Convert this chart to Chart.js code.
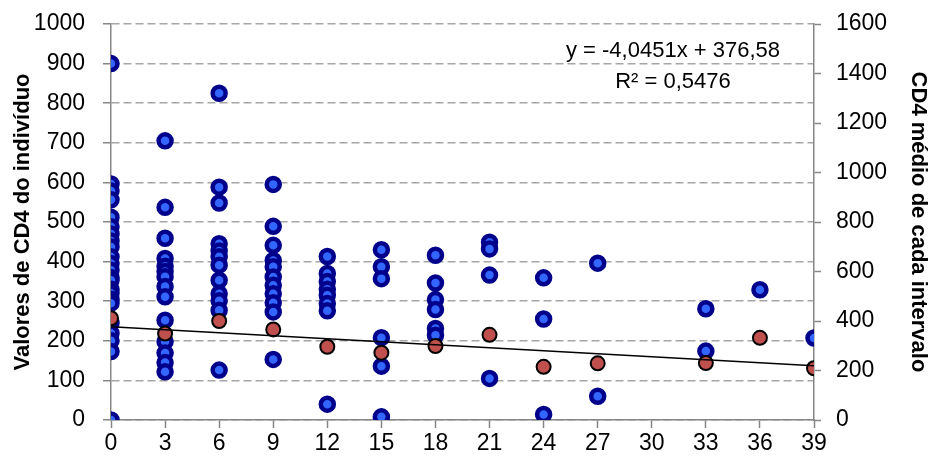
<!DOCTYPE html>
<html>
<head>
<meta charset="utf-8">
<script src="https://cdn.jsdelivr.net/npm/chart.js@4/dist/chart.umd.min.js"></script>
<style>
  html, body { margin: 0; padding: 0; background: #fff; }
  canvas { display: block; }
</style>
</head>
<body>
<canvas id="c" width="931" height="465"></canvas>
<script>
// valores individuais de CD4 (eixo esquerdo), agrupados por intervalo
var indivX = [
  0, 0, 0, 0, 0, 0, 0, 0, 0, 0, 0, 0, 0, 0, 0, 0, 0, 0, 0, 0, 0, 0, 0,
  3, 3, 3, 3, 3, 3, 3, 3, 3, 3, 3, 3, 3, 3,
  6, 6, 6, 6, 6, 6, 6, 6, 6, 6, 6, 6,
  9, 9, 9, 9, 9, 9, 9, 9, 9, 9, 9,
  12, 12, 12, 12, 12, 12, 12, 12,
  15, 15, 15, 15, 15, 15,
  18, 18, 18, 18, 18, 18,
  21, 21, 21, 21,
  24, 24, 24,
  27, 27,
  33, 33,
  36,
  39
];
var indivCD4 = [
  900, 596, 578, 556, 512, 488, 470, 452, 437, 412, 395, 378, 360, 353, 330, 320, 305, 295, 245, 219, 200, 173, 0,
  705, 537, 459, 408, 388, 375, 362, 337, 311, 252, 198, 169, 145, 122,
  825, 588, 548, 445, 427, 412, 391, 353, 319, 301, 277, 126,
  595, 489, 441, 403, 387, 361, 340, 319, 296, 273, 153,
  413, 370, 350, 330, 315, 294, 276, 40,
  430, 387, 357, 208, 136, 8,
  416, 346, 304, 279, 231, 214,
  449, 432, 366, 105,
  359, 255, 14,
  396, 60,
  281, 174,
  329,
  207
];

// CD4 médio de cada intervalo (eixo direito)
var mediaX = [0, 3, 6, 9, 12, 15, 18, 21, 24, 27, 33, 36, 39];
var mediaCD4 = [411, 349, 400, 366, 296, 272, 299, 344, 215, 229, 230, 332, 209];

// linha de tendência (da equação mostrada no gráfico)
var trendSlope = -4.0451;
var trendIntercept = 376.58;
var trendRange = [0, 39];
var trendLabel = ['y = -4,0451x + 376,58', 'R² = 0,5476'];

var FONT = "'Liberation Sans', Arial, sans-serif";
var AXIS = '#868686';
var GRID = '#a6a6a6';

function pts(xs, ys) {
  return xs.map(function (x, i) { return { x: x, y: ys[i] }; });
}

function plain(v) {
  return String(v);
}

// larguras fixas dos eixos, sem a folga automática dos rótulos
function fixWidth(w) {
  return function (s) {
    s.width = w;
    s.paddingTop = 0;
    s.paddingBottom = 0;
  };
}

var equationPlugin = {
  id: 'equation',
  afterDatasetsDraw: function (chart) {
    var ctx = chart.ctx;
    var a = chart.chartArea;
    ctx.save();
    ctx.fillStyle = '#000';
    ctx.font = '22px ' + FONT;
    ctx.textAlign = 'center';
    ctx.textBaseline = 'middle';
    var cx = a.right - 141;
    ctx.fillText(trendLabel[0], cx, a.top + 27);
    ctx.fillText(trendLabel[1], cx, a.top + 58);
    ctx.restore();
  }
};

new Chart(document.getElementById('c').getContext('2d'), {
  type: 'scatter',
  data: {
    datasets: [
      {
        label: 'Tendência',
        type: 'line',
        data: trendRange.map(function (x) { return { x: x, y: trendIntercept + trendSlope * x }; }),
        yAxisID: 'y2',
        borderColor: '#000',
        borderWidth: 1.5,
        pointRadius: 0,
        fill: false,
        order: 0
      },
      {
        label: 'CD4 médio',
        data: pts(mediaX, mediaCD4),
        yAxisID: 'y2',
        backgroundColor: '#c0504d',
        borderColor: '#000',
        borderWidth: 2,
        pointRadius: 7,
        order: 1
      },
      {
        label: 'CD4 do indivíduo',
        data: pts(indivX, indivCD4),
        yAxisID: 'y',
        backgroundColor: '#3366ff',
        borderColor: '#00008b',
        borderWidth: 4.5,
        pointRadius: 6.5,
        order: 2
      }
    ]
  },
  options: {
    responsive: false,
    animation: false,
    layout: { padding: { top: 24, left: 0, right: 0, bottom: 0 } },
    plugins: { legend: { display: false }, tooltip: { enabled: false } },
    scales: {
      x: {
        type: 'linear',
        min: 0,
        max: 39,
        afterFit: function (s) { s.height = 45; s.paddingLeft = 0; s.paddingRight = 0; },
        ticks: { stepSize: 3, color: '#000', padding: 2, callback: plain, font: { family: FONT, size: 23 } },
        grid: { drawOnChartArea: false, tickLength: 8, tickColor: AXIS, tickWidth: 1.5 },
        border: { color: AXIS, width: 1.5 }
      },
      y: {
        position: 'left',
        min: 0,
        max: 1000,
        afterFit: fixWidth(111),
        ticks: { stepSize: 100, color: '#000', padding: 18, callback: plain, font: { family: FONT, size: 23 } },
        grid: { color: GRID, lineWidth: 1.5, tickLength: 8, tickColor: AXIS, tickWidth: 1.5 },
        border: { color: AXIS, width: 1.5, dash: [8, 4] },
        title: {
          display: true,
          text: 'Valores de CD4 do indivíduo',
          color: '#000',
          padding: { top: 10, bottom: 0 },
          font: { family: FONT, size: 22, weight: 'bold' }
        }
      },
      y2: {
        position: 'right',
        min: 0,
        max: 1600,
        afterFit: fixWidth(117),
        ticks: { stepSize: 200, color: '#000', padding: 15, callback: plain, font: { family: FONT, size: 23 } },
        grid: { drawOnChartArea: false, tickLength: 7, tickColor: AXIS, tickWidth: 1.5 },
        border: { color: AXIS, width: 1.5 },
        title: {
          display: true,
          text: 'CD4 médio de cada intervalo',
          color: '#000',
          padding: { top: 0, bottom: 0 },
          font: { family: FONT, size: 22, weight: 'bold' }
        }
      }
    }
  },
  plugins: [equationPlugin]
});
</script>
</body>
</html>
